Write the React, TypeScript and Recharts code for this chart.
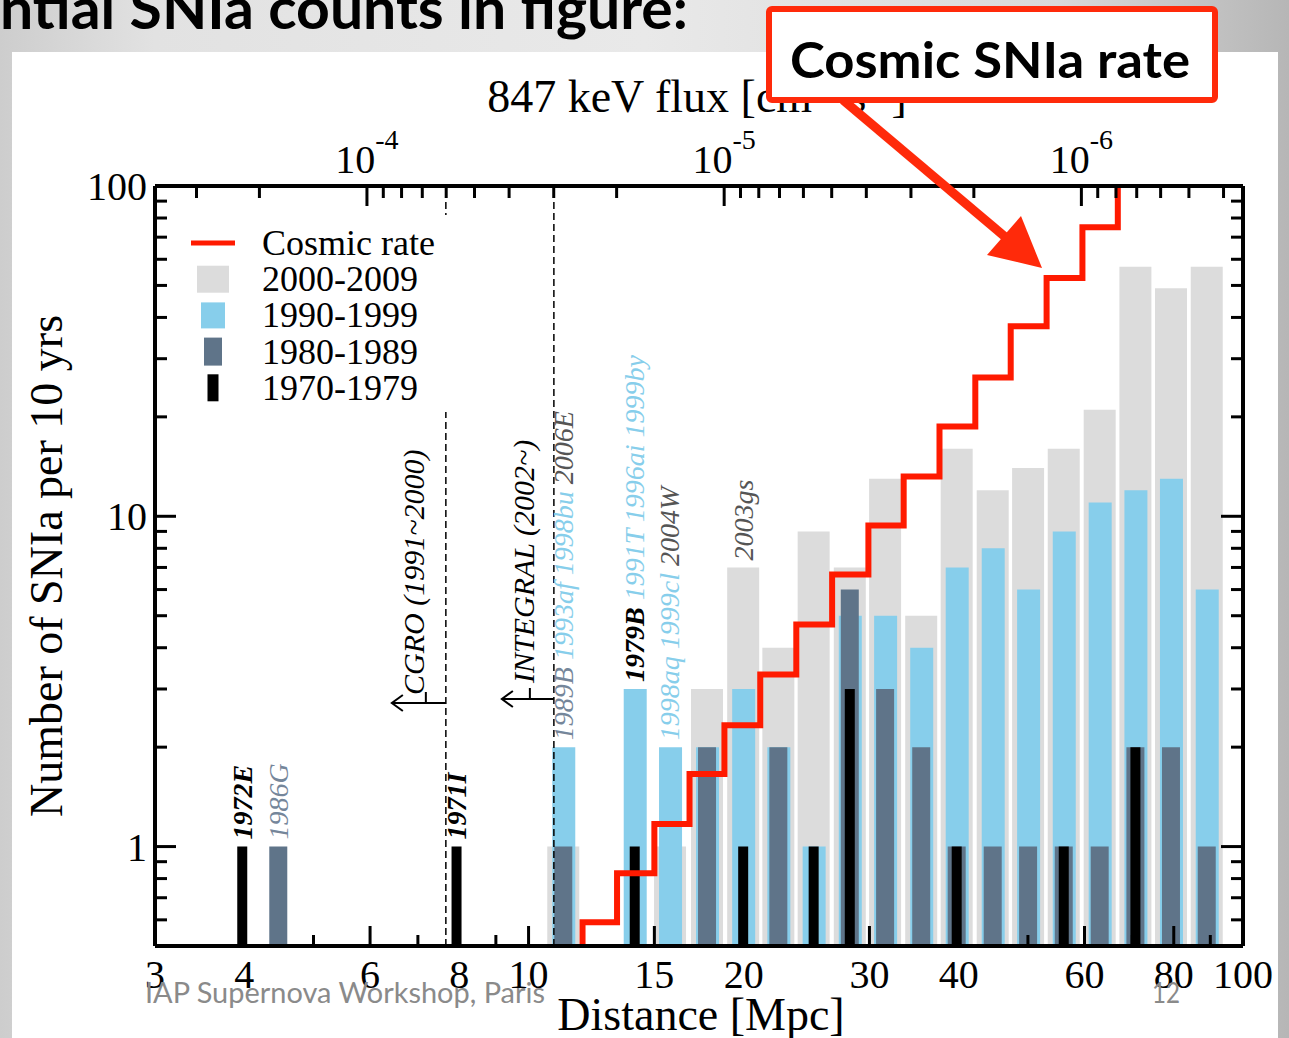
import React from 'react';
import {
  ComposedChart,
  Bar,
  Line,
  Scatter,
  XAxis,
  YAxis,
  ReferenceLine,
  Legend,
} from 'recharts';

// histogram bin centres, Mpc
const DISTANCES = [3.98, 4.47, 7.94, 11.2, 12.6, 14.1, 15.8, 17.8, 20.0, 22.4, 25.1, 28.2, 31.6, 35.5, 39.8, 44.7, 50.1, 56.2, 63.1, 70.8, 79.4, 89.1];
const COUNTS_2000S = [null, null, null, 1, null, null, 1, 3, 7, 4, 9, 7, 13, 5, 16, 12, 14, 16, 21, 57, 49, 57];
const COUNTS_1990S = [null, null, null, 2, null, 3, 2, 2, 3, 2, 1, 5, 5, 4, 7, 8, 6, 9, 11, 12, 13, 6];
const COUNTS_1980S = [null, 1, null, 1, null, null, null, 2, null, 2, null, 6, 3, 2, 1, 1, 1, 1, 1, 2, 2, 1];
const COUNTS_1970S = [1, null, 1, null, null, 1, null, null, 1, null, 1, 3, null, null, 1, null, null, 1, null, 2, null, null];

// cosmic rate step line: left edge of each step and its level
const RATE_EDGES = [11.9, 11.9, 13.3, 15.0, 16.8, 18.8, 21.1, 23.7, 26.6, 29.9, 33.5, 37.6, 42.2, 47.3, 53.1, 59.6, 66.8];
const RATE_VALUES = [0.4, 0.59, 0.83, 1.17, 1.66, 2.33, 3.32, 4.7, 6.67, 9.38, 13.2, 18.7, 26.3, 37.6, 52.7, 75.0, 106];

// supernova names written above the bars
const NAME_DISTANCES = [3.98, 4.47, 7.94, 11.2, 14.1, 15.8, 20.0];
const NAME_BASES = [1, 1, 1, 2, 3, 2, 7];
const NAME_LISTS = [
  ['1972E'],
  ['1986G'],
  ['1971I'],
  ['1989B', '1993af', '1998bu', '2006E'],
  ['1979B', '1991T', '1996ai', '1999by'],
  ['1998aq', '1999cl', '2004W'],
  ['2003gs'],
];

const X_TICKS = [3, 4, 5, 6, 7, 8, 9, 10, 15, 20, 30, 40, 50, 60, 70, 80, 90, 100];
const X_LABELS = [3, 4, 6, 8, 10, 15, 20, 30, 40, 60, 80, 100];
const Y_TICKS = [0.6, 0.7, 0.8, 0.9, 1, 2, 3, 4, 5, 6, 7, 8, 9, 10, 20, 30, 40, 50, 60, 70, 80, 90, 100];
const Y_LABELS = [1, 10, 100];
const FLUX_TICKS = [3e-4, 2e-4, 1e-4, 9e-5, 8e-5, 7e-5, 6e-5, 5e-5, 4e-5, 3e-5, 2e-5, 1e-5, 9e-6, 8e-6, 7e-6, 6e-6, 5e-6, 4e-6, 3e-6, 2e-6, 1e-6, 9e-7, 8e-7, 7e-7, 6e-7, 5e-7, 4e-7];
const D_AT_FLUX_1E4 = 5.94; // Mpc where the 847 keV flux is 1e-4

const CGRO_LIMIT = 7.66;
const INTEGRAL_LIMIT = 10.85;

const SERIF = '"Liberation Serif", "Times New Roman", serif';
const SANS = 'Lato, "Open Sans", sans-serif';
const RED = '#ff1a00';
const BOX_RED = '#ff2a0a';
const FILL: Record<string, string> = {
  '200': '#dcdcdc',
  '199': '#87ceeb',
  '198': '#5f7489',
  '197': '#000000',
};
const NAME_COLOR: Record<string, string> = {
  '200': '#555555',
  '199': '#87ceeb',
  '198': '#75869a',
  '197': '#000000',
};
const AXIS_LINE = { stroke: '#000', strokeWidth: 4 };

const rows = DISTANCES.map((d, i) => ({
  d,
  c2000: COUNTS_2000S[i],
  c1990: COUNTS_1990S[i],
  c1980: COUNTS_1980S[i],
  c1970: COUNTS_1970S[i],
}));
const rateRows = RATE_EDGES.map((d, i) => ({ d, rate: RATE_VALUES[i] }));
const nameRows = NAME_DISTANCES.map((d, i) => ({ d, base: NAME_BASES[i], names: NAME_LISTS[i] }));
const fluxToDistance = (f: number) => D_AT_FLUX_1E4 * Math.sqrt(1e-4 / f);
const distanceToFlux = (d: number) => 1e-4 * Math.pow(D_AT_FLUX_1E4 / d, 2);
const FLUX_DISTANCES = FLUX_TICKS.map(fluxToDistance);

const BottomTick = (p: any) => {
  const { x, y, payload } = p;
  const labelled = X_LABELS.includes(payload.value);
  return (
    <g>
      <line x1={x} x2={x} y1={y} y2={y - (labelled ? 20 : 11)} stroke="#000" strokeWidth={3} />
      {labelled && (
        <text x={x} y={y + 42} textAnchor="middle" fontFamily={SERIF} fontSize={40} fill="#000">
          {payload.value}
        </text>
      )}
    </g>
  );
};

const TopTick = (p: any) => {
  const { x, y, payload } = p;
  const lf = Math.log10(distanceToFlux(payload.value));
  const decade = Math.abs(lf - Math.round(lf)) < 0.02;
  return (
    <g>
      <line x1={x} x2={x} y1={y} y2={y + (decade ? 20 : 12)} stroke="#000" strokeWidth={3} />
      {decade && (
        <text x={x} y={y - 13} textAnchor="middle" fontFamily={SERIF} fontSize={40} fill="#000">
          10
          <tspan dy={-24} fontSize={28}>{Math.round(lf)}</tspan>
        </text>
      )}
    </g>
  );
};

const LeftTick = (p: any) => {
  const { x, y, payload } = p;
  const major = Y_LABELS.includes(payload.value);
  return (
    <g>
      <line x1={x} x2={x + (major ? 21 : 12)} y1={y} y2={y} stroke="#000" strokeWidth={3} />
      {major && (
        <text x={x - 8} y={y + 14} textAnchor="end" fontFamily={SERIF} fontSize={40} fill="#000">
          {payload.value}
        </text>
      )}
    </g>
  );
};

const RightTick = (p: any) => {
  const { x, y, payload } = p;
  const major = Y_LABELS.includes(payload.value);
  return <line x1={x} x2={x - (major ? 22 : 12)} y1={y} y2={y} stroke="#000" strokeWidth={3} />;
};

const NameColumn = (p: any) => {
  const { cx, cy, payload } = p;
  if (cx == null || cy == null) return null;
  const x = cx + 9;
  const y = cy - 7;
  return (
    <text x={x} y={y} transform={`rotate(-90 ${x} ${y})`} fontFamily={SERIF} fontStyle="italic" fontSize={28}>
      {payload.names.map((n: string, j: number) => {
        const dec = n.slice(0, 3);
        return (
          <tspan key={n} fill={NAME_COLOR[dec]} fontWeight={dec === '197' ? 'bold' : 'normal'}>
            {(j ? ' ' : '') + n}
          </tspan>
        );
      })}
    </text>
  );
};

function missionNote(text: string, textDx: number, textUp: number, arrowUp: number, arrowLen: number, stubDx: number) {
  return (p: any) => {
    const vb = p.viewBox;
    if (!vb) return null;
    const x = vb.x;
    const bottom = vb.y + vb.height;
    const tx = x + textDx;
    const ty = bottom - textUp;
    const ay = bottom - arrowUp;
    return (
      <g>
        <text x={tx} y={ty} transform={`rotate(-90 ${tx} ${ty})`} fontFamily={SERIF} fontStyle="italic" fontSize={30} fill="#000">
          {text}
        </text>
        <line x1={x} x2={x - arrowLen} y1={ay} y2={ay} stroke="#000" strokeWidth={2} />
        <polyline points={`${x - arrowLen + 11},${ay - 8} ${x - arrowLen},${ay} ${x - arrowLen + 11},${ay + 8}`} fill="none" stroke="#000" strokeWidth={2} />
        <line x1={x + stubDx} x2={x + stubDx} y1={ay} y2={ay - 11} stroke="#000" strokeWidth={2} />
      </g>
    );
  };
}

function LegendBox() {
  const items = [
    { label: 'Cosmic rate', color: RED, w: 44, h: 5 },
    { label: '2000-2009', color: FILL['200'], w: 32, h: 27 },
    { label: '1990-1999', color: FILL['199'], w: 24, h: 26 },
    { label: '1980-1989', color: FILL['198'], w: 18, h: 28 },
    { label: '1970-1979', color: FILL['197'], w: 11, h: 27 },
  ];
  return (
    <svg width={274} height={197} style={{ display: 'block', background: '#fff' }}>
      {items.map((it, i) => {
        const cy = 28 + i * 36.2;
        return (
          <g key={it.label}>
            <rect x={35 - it.w / 2} y={cy - it.h / 2} width={it.w} height={it.h} fill={it.color} />
            <text x={84} y={cy + 12} fontFamily={SERIF} fontSize={36} fill="#000">
              {it.label}
            </text>
          </g>
        );
      })}
    </svg>
  );
}

export default function App() {
  return (
    <div
      style={{
        position: 'fixed',
        left: 0,
        top: 0,
        width: 1289,
        height: 1038,
        overflow: 'hidden',
        background: 'linear-gradient(90deg, #cdcdcd 0%, #e2e2e2 12%, #e9e9e9 50%, #d9d9d9 82%, #b6b6b6 100%)',
      }}
    >
      <div style={{ position: 'absolute', left: 12, top: 52, width: 1266, height: 986, background: '#fff' }} />
      <div style={{ position: 'absolute', left: 0, top: 0 }}>
        <ComposedChart width={1289} height={1038} data={rows} margin={{ top: 156, right: 26, bottom: 62, left: 95 }}>
          <XAxis
            xAxisId="gray"
            dataKey="d"
            type="number"
            scale="log"
            domain={[3, 100]}
            allowDataOverflow
            ticks={X_TICKS}
            interval={0}
            tick={BottomTick}
            tickLine={false}
            tickSize={0}
            tickMargin={0}
            height={30}
            axisLine={AXIS_LINE}
            label={(p: any) => {
              const vb = p.viewBox || { x: 155, y: 946, width: 1088 };
              return (
                <text x={vb.x + vb.width / 2 + 2} y={vb.y + 84} textAnchor="middle" fontFamily={SERIF} fontSize={46} fill="#000">
                  Distance [Mpc]
                </text>
              );
            }}
          />
          {['blue', 'dark', 'black', 'marks'].map((id) => (
            <XAxis key={id} xAxisId={id} dataKey="d" type="number" scale="log" domain={[3, 100]} allowDataOverflow hide height={0} />
          ))}
          <XAxis
            xAxisId="top"
            orientation="top"
            dataKey="d"
            type="number"
            scale="log"
            domain={[3, 100]}
            allowDataOverflow
            ticks={FLUX_DISTANCES}
            interval={0}
            tick={TopTick}
            tickLine={false}
            tickSize={0}
            tickMargin={0}
            height={30}
            axisLine={AXIS_LINE}
            label={(p: any) => {
              const vb = p.viewBox || { x: 155, y: 156, width: 1088 };
              return (
                <text x={vb.x + vb.width / 2 - 2} y={vb.y - 44} textAnchor="middle" fontFamily={SERIF} fontSize={46} fill="#000">
                  847 keV flux [cm
                  <tspan dy={-20} fontSize={30}>-2</tspan>
                  <tspan dy={20}> s</tspan>
                  <tspan dy={-20} fontSize={30}>-1</tspan>
                  <tspan dy={20}>]</tspan>
                </text>
              );
            }}
          />
          <YAxis
            yAxisId="y"
            type="number"
            scale="log"
            domain={[0.5, 100]}
            allowDataOverflow
            ticks={Y_TICKS}
            interval={0}
            tick={LeftTick}
            tickLine={false}
            tickSize={0}
            tickMargin={0}
            width={60}
            axisLine={AXIS_LINE}
            label={(p: any) => {
              const vb = p.viewBox || { x: 95, y: 186, width: 60, height: 760 };
              const x = vb.x + vb.width - 93;
              const y = vb.y + vb.height / 2;
              return (
                <text x={x} y={y} transform={`rotate(-90 ${x} ${y})`} textAnchor="middle" fontFamily={SERIF} fontSize={46} fill="#000">
                  Number of SNIa per 10 yrs
                </text>
              );
            }}
          />
          <YAxis
            yAxisId="r"
            orientation="right"
            type="number"
            scale="log"
            domain={[0.5, 100]}
            allowDataOverflow
            ticks={Y_TICKS}
            interval={0}
            tick={RightTick}
            tickLine={false}
            tickSize={0}
            tickMargin={0}
            width={20}
            axisLine={AXIS_LINE}
          />
          <Bar xAxisId="gray" yAxisId="y" dataKey="c2000" name="2000-2009" fill={FILL['200']} barSize={32} isAnimationActive={false} />
          <Bar xAxisId="blue" yAxisId="y" dataKey="c1990" name="1990-1999" fill={FILL['199']} barSize={23} isAnimationActive={false} />
          <Bar xAxisId="dark" yAxisId="y" dataKey="c1980" name="1980-1989" fill={FILL['198']} barSize={18} isAnimationActive={false} />
          <Bar xAxisId="black" yAxisId="y" dataKey="c1970" name="1970-1979" fill={FILL['197']} barSize={10} isAnimationActive={false} />
          <ReferenceLine
            xAxisId="marks"
            yAxisId="y"
            x={CGRO_LIMIT}
            stroke="#000"
            strokeWidth={1.5}
            strokeDasharray="7 4"
            label={missionNote('CGRO (1991~2000)', -22, 251, 243, 54, -20)}
          />
          <ReferenceLine
            xAxisId="marks"
            yAxisId="y"
            x={INTEGRAL_LIMIT}
            stroke="#000"
            strokeWidth={1.5}
            strokeDasharray="7 4"
            label={missionNote('INTEGRAL (2002~)', -20, 263, 247, 52, -24)}
          />
          <Line
            xAxisId="marks"
            yAxisId="y"
            data={rateRows}
            dataKey="rate"
            name="Cosmic rate"
            type="stepAfter"
            stroke={RED}
            strokeWidth={6}
            dot={false}
            activeDot={false}
            isAnimationActive={false}
          />
          <Scatter xAxisId="marks" yAxisId="y" data={nameRows} dataKey="base" shape={NameColumn} isAnimationActive={false} />
          <Legend
            layout="vertical"
            align="center"
            verticalAlign="middle"
            content={() => <LegendBox />}
            wrapperStyle={{ left: 178, top: 215, width: 274, height: 197, background: '#fff' }}
          />
        </ComposedChart>
      </div>
      <svg width={1289} height={1038} style={{ position: 'absolute', left: 0, top: 0, pointerEvents: 'none' }}>
        <text x={0} y={29} fontFamily={SANS} fontWeight={700} fontSize={58} textLength={688} lengthAdjust="spacingAndGlyphs" fill="#000">
          ntial SNIa counts in figure:
        </text>
        <line x1={843} y1={100} x2={1010} y2={241} stroke={BOX_RED} strokeWidth={9} />
        <polygon points="1042,268 987,255 1021,216" fill={BOX_RED} />
        <rect x={769} y={9} width={446} height={91} rx={3} fill="#fff" stroke={BOX_RED} strokeWidth={6} />
        <text x={990} y={78} textAnchor="middle" fontFamily={SANS} fontWeight={700} fontSize={50} textLength={400} lengthAdjust="spacingAndGlyphs" fill="#000">
          Cosmic SNIa rate
        </text>
        <text x={145} y={1003} fontFamily={SANS} fontSize={28} textLength={400} lengthAdjust="spacingAndGlyphs" fill="#8a8a8a">
          IAP Supernova Workshop, Paris
        </text>
        <text x={1152} y={1003} fontFamily={SANS} fontSize={28} textLength={28} lengthAdjust="spacingAndGlyphs" fill="#8a8a8a">
          12
        </text>
      </svg>
    </div>
  );
}
